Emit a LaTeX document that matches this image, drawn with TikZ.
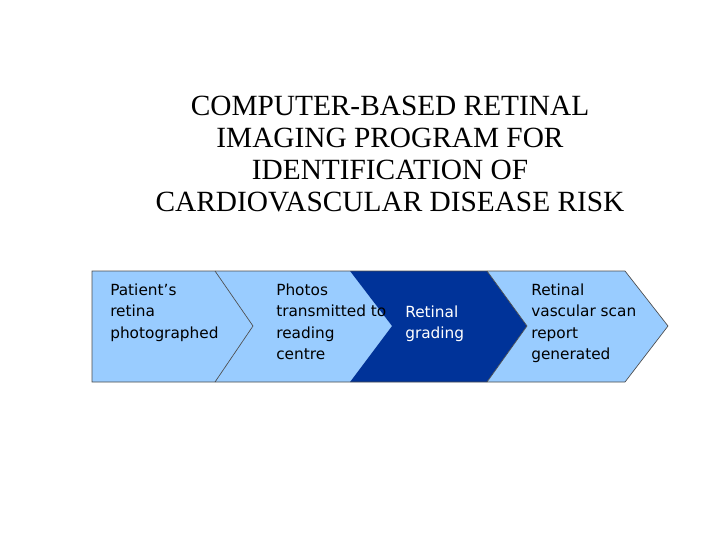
\documentclass[tikz,border=0pt]{standalone}
\usepackage{fontspec}
\setmainfont{Liberation Serif}
\newfontfamily\tah{DejaVu Sans}
\begin{document}
\begin{tikzpicture}[x=0.75pt,y=-0.75pt,
  chev/.style={draw=black!70,line width=0.5pt},
  lbl/.style={anchor=north west,inner sep=0pt,align=left,font=\tah\fontsize{11.5}{15.8}\selectfont},
  ttl/.style={align=center,font=\fontsize{22}{24}\selectfont}]
\useasboundingbox (0,0) rectangle (720,540);
\definecolor{lb}{HTML}{99CCFF}
\definecolor{db}{HTML}{003399}
\fill[lb] (92,271) -- (215,271) -- (253,326) -- (215,382) -- (92,382) -- cycle;
\fill[lb] (215,271) -- (350,271) -- (392,326) -- (350,382) -- (215,382) -- (253,326) -- cycle;
\fill[db] (350,271) -- (487,271) -- (527,326) -- (487,382) -- (350,382) -- (392,326) -- cycle;
\fill[lb] (487,271) -- (625,271) -- (668,326) -- (625,382) -- (487,382) -- (527,326) -- cycle;
\draw[chev] (92,271) -- (625,271) -- (668,326) -- (625,382) -- (92,382) -- cycle;
\draw[chev] (215,271) -- (253,326) -- (215,382);
\draw[chev] (487,271) -- (527,326) -- (487,382);
\node[ttl] (title) at (390,154) {COMPUTER-BASED RETINAL\\IMAGING PROGRAM FOR\\IDENTIFICATION OF\\CARDIOVASCULAR DISEASE RISK};
\node[lbl] (a) at (110,284) {Patient’s\\retina\\photographed};
\node[lbl] (b) at (276,284) {Photos\\transmitted to\\reading\\centre};
\node[lbl,text=white] (c) at (405,306) {Retinal\\grading};
\node[lbl] (d) at (531,284) {Retinal\\vascular scan\\report\\generated};
\end{tikzpicture}
\end{document}
